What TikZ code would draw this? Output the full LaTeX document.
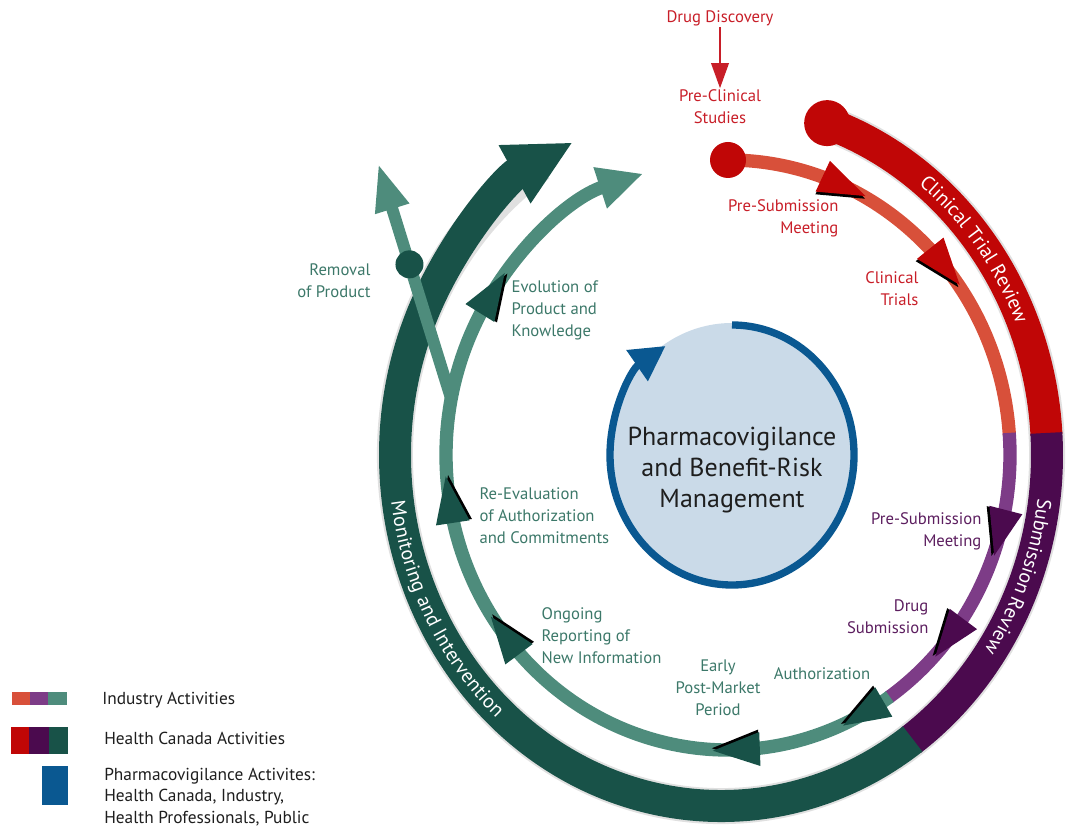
\documentclass[tikz,border=0pt]{standalone}
\usepackage{fontspec}
\setmainfont{PT Sans}
\usetikzlibrary{arrows.meta,decorations.text}
\definecolor{indred}{RGB}{216,80,58}
\definecolor{indpurple}{RGB}{125,60,135}
\definecolor{indteal}{RGB}{78,140,124}
\definecolor{hcred}{RGB}{192,6,6}
\definecolor{hcpurple}{RGB}{75,10,78}
\definecolor{hcgreen}{RGB}{24,82,72}
\definecolor{pvblue}{RGB}{10,88,145}
\definecolor{lightblue}{RGB}{202,218,232}
\definecolor{textred}{RGB}{200,30,40}
\definecolor{textpurple}{RGB}{92,30,95}
\definecolor{textgreen}{RGB}{60,120,105}
\definecolor{textdark}{RGB}{30,30,30}
\newcommand\ringfmt{\fontsize{15}{18}\selectfont\color{white}}
\begin{document}
\begin{tikzpicture}[x=0.75pt,y=0.75pt,
  lbl/.style={font=\fontsize{12.5}{16.5}\selectfont, inner sep=1pt},
  redlbl/.style={lbl, text=textred},
  purplbl/.style={lbl, text=textpurple},
  greenlbl/.style={lbl, text=textgreen},
  leglbl/.style={font=\fontsize{13}{16}\selectfont, text=textdark, inner sep=0pt, anchor=west, align=left},
  outerband/.style={line width=24pt},
  thinband/.style={line width=10pt}]
\useasboundingbox (0,0) rectangle (1066,828);
\coordinate (O) at (721,373);
\coordinate (T) at (728,373);
\coordinate (C) at (732,373);

% shadow of outer band
\begin{scope}[shift={(5,-6)}, opacity=0.12]
\draw[black, line width=27pt] (O) ++(70:326 and 351) arc[start angle=70, end angle=-236, x radius=326, y radius=351];
\end{scope}

% outer band (Health Canada)
\draw[hcred, outerband] (O) ++(70:326 and 351) arc[start angle=70, end angle=3.3, x radius=326, y radius=351];
\draw[hcpurple, outerband] (O) ++(3.6:326 and 351) arc[start angle=3.6, end angle=-54.3, x radius=326, y radius=351];
\draw[hcgreen, outerband, -{Triangle[length=50pt,width=46pt]}] (O) ++(-54:326 and 351) arc[start angle=-54, end angle=-243, x radius=326, y radius=351];
\fill[hcred] (O) ++(71:326 and 351) circle[radius=23];

% text on outer band
\path[decorate, decoration={text along path, text align=center, raise=-5pt, text={|\ringfmt|Clinical Trial Review}}]
  (O) ++(70:326 and 351) arc[start angle=70, end angle=5, x radius=326, y radius=351];
\path[decorate, decoration={text along path, text align=center, raise=-5pt, text={|\ringfmt|Submission Review}}]
  (O) ++(4:326 and 351) arc[start angle=4, end angle=-46, x radius=326, y radius=351];
\path[decorate, decoration={text along path, text align=center, raise=-5pt, text={|\ringfmt|Monitoring and Intervention}}]
  (O) ++(168:326 and 351) arc[start angle=168, end angle=248, x radius=326, y radius=351];

% thin band (Industry)
\draw[indred, thinband] (T) ++(90:282 and 295) arc[start angle=90, end angle=4, x radius=282, y radius=295];
\draw[indpurple, thinband] (T) ++(4.3:282 and 295) arc[start angle=4.3, end angle=-55.3, x radius=282, y radius=295];
\draw[indteal, thinband, -{Triangle[length=34pt,width=30pt]}] (T) ++(-55:282 and 295) arc[start angle=-55, end angle=-252.5, x radius=282, y radius=295];
\fill[hcred] (T) ++(90:282 and 295) circle[radius=18];

% removal branch
\path (T) ++(169:282 and 295) coordinate (rj);
\coordinate (rt) at (378,665);
\draw[indteal, line width=9pt, -{Triangle[length=36pt,width=24pt]}] (rj) -- coordinate[pos=0.57] (rd) (rt);
\fill[hcgreen] (rd) circle[radius=14];

% arrowheads along thin band
\foreach \t/\c in {66/hcred, 40/hcred, -15/hcpurple, -38/hcpurple, -61/hcgreen, -88/hcgreen, -142/hcgreen, -171/hcgreen, -213/hcgreen} {
  \pgfmathsetmacro\ang{atan2(-295*cos(\t), 282*sin(\t))}
  \begin{scope}[shift={({728+282*cos(\t)},{373+295*sin(\t)})}, rotate=\ang]
    \fill[black] (26,-2.5) -- (-21,-19.5) -- (-21,14) -- cycle;
    \fill[\c] (25,0) -- (-22,-17) -- (-22,17) -- cycle;
  \end{scope}
}

% central circle
\fill[lightblue] (C) ellipse[x radius=124, y radius=132];
\draw[pvblue, line width=5.5pt, -{Triangle[length=26pt,width=27pt]}] (C) ++(90:122 and 130) arc[start angle=90, end angle=-237, x radius=122, y radius=130];
\node[font=\fontsize{19.5}{23.5}\selectfont, align=center, text=textdark] (pv) at (732,358) {Pharmacovigilance\\and Benefit-Risk\\Management};

% labels
\node[redlbl] (dd) at (720,810) {Drug Discovery};
\node[redlbl, align=center] (pc) at (720,721) {Pre-Clinical\\Studies};
\draw[textred, line width=2.2pt, -{Triangle[length=19pt,width=13pt]}] (dd.south) -- (pc.north);
\node[redlbl, align=right, anchor=east] (psm) at (840,610) {Pre-Submission\\Meeting};
\node[redlbl, align=right, anchor=east] (ct) at (920,539) {Clinical\\Trials};
\node[purplbl, align=right, anchor=east] (psm2) at (983,297) {Pre-Submission\\Meeting};
\node[purplbl, align=right, anchor=east] (ds) at (930,211) {Drug\\Submission};
\node[greenlbl] (auth) at (822,154) {Authorization};
\node[greenlbl, align=center] (early) at (718,140) {Early\\Post-Market\\Period};
\node[greenlbl, align=left, anchor=west] (ongo) at (540,192) {Ongoing\\Reporting of\\New Information};
\node[greenlbl, align=left, anchor=west] (reev) at (478,312) {Re-Evaluation\\of Authorization\\and Commitments};
\node[greenlbl, align=left, anchor=west] (evol) at (510,518) {Evolution of\\Product and\\Knowledge};
\node[greenlbl, align=right, anchor=east] (remo) at (372,547) {Removal\\of Product};

% legend
\fill[indred] (12,123) rectangle (30,136);
\fill[indpurple] (30,123) rectangle (48,136);
\fill[indteal] (48,123) rectangle (67,136);
\fill[hcred] (11,74) rectangle (29,101);
\fill[hcpurple] (29,74) rectangle (49,101);
\fill[hcgreen] (49,74) rectangle (68,101);
\fill[pvblue] (42,23) rectangle (68,62);
\node[leglbl] (lind) at (102,128) {Industry Activities};
\node[leglbl] (lhc) at (104,90) {Health Canada Activities};
\node[leglbl] (lpv) at (104,31) {Pharmacovigilance Activites:\\Health Canada, Industry,\\Health Professionals, Public};
\end{tikzpicture}
\end{document}
